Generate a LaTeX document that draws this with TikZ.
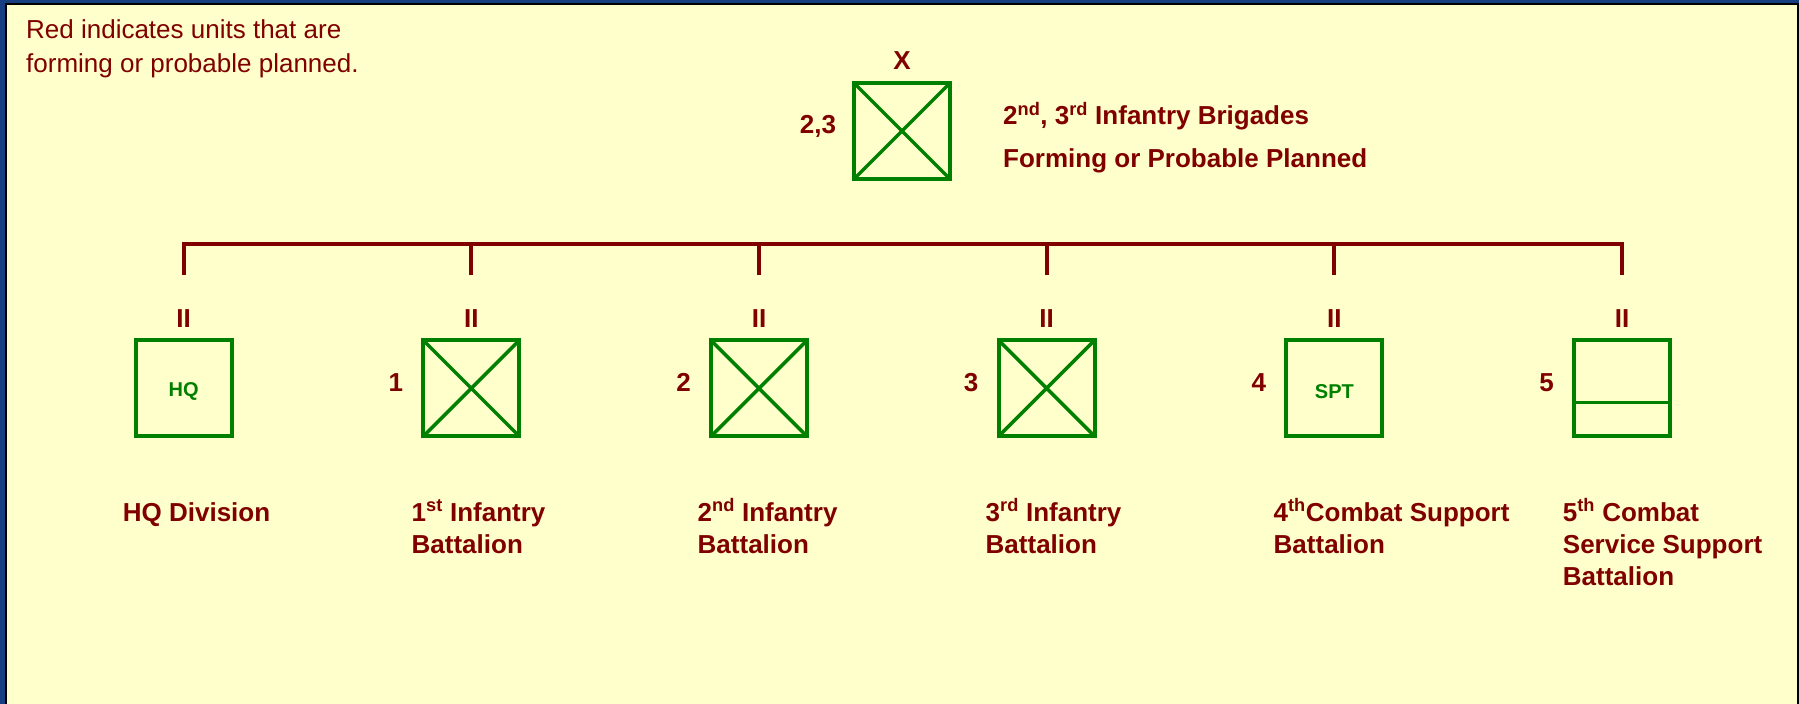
\documentclass[tikz,border=0pt]{standalone}
\usepackage{fontspec}
\setmainfont{Liberation Sans}
\definecolor{dred}{RGB}{128,0,0}
\definecolor{dgreen}{RGB}{0,128,0}
\definecolor{paper}{RGB}{255,255,204}
\definecolor{bluebg}{RGB}{22,62,128}
\tikzset{
  unit/.style={draw=dgreen, line width=4pt, minimum size=96pt, inner sep=0pt, outer sep=0pt,
    font=\fontsize{20}{24}\selectfont\bfseries, text=dgreen},
  tag/.style={text=dred, font=\fontsize{26}{30}\selectfont\bfseries, inner sep=0pt},
  lbl/.style={text=dred, font=\fontsize{26}{32}\selectfont\bfseries, align=left, anchor=base west, inner sep=0pt},
  notetext/.style={text=dred, font=\fontsize{26}{34}\selectfont, align=left, anchor=base west, inner sep=0pt},
  crossline/.style={draw=dgreen, line width=3.5pt},
  link/.style={draw=dred, line width=4pt},
}
\begin{document}
\begin{tikzpicture}[x=1pt,y=-1pt]
\useasboundingbox (0,0) rectangle (1799,704);
\fill[bluebg] (0,0) rectangle (1799,704);
\filldraw[fill=paper, draw=black, line width=2pt] (6,4) rectangle (1798,720);

% note (anchor is the baseline of the last line)
\node[notetext] (note) at (26,72.5) {Red indicates units that are\\forming or probable planned.};

% top brigade
\node[unit] (T) at (902,131) {};
\draw[crossline] (T.north west) -- (T.south east) (T.north east) -- (T.south west);
\node[tag] (Tx) at (902,61) {X};
\node[tag] (Tn) at (818,126) {2,3};
\node[lbl] (brig1) at (1003,124.5) {2\textsuperscript{nd}, 3\textsuperscript{rd} Infantry Brigades};
\node[lbl] (brig2) at (1003,167.5) {Forming or Probable Planned};

% bar
\coordinate (bar) at (0,244);
\foreach \i/\x in {1/183.6,2/471.3,3/759,4/1046.6,5/1334.4,6/1622}{
  \coordinate (d\i) at (\x,275);
  \node[unit] (B\i) at (\x,388.3) {};
  \node[tag] (E\i) at (\x,319) {II};
}
\draw[link] (d1) -- (d1 |- bar) -- (d6 |- bar) -- (d6);
\foreach \i in {2,3,4,5}{ \draw[link] (d\i) -- (d\i |- bar); }

% box contents
\node[text=dgreen, font=\fontsize{20}{24}\selectfont\bfseries, inner sep=0pt] (hq) at ([yshift=-3pt]B1.center) {HQ};
\node[text=dgreen, font=\fontsize{20}{24}\selectfont\bfseries, inner sep=0pt] (spt) at ([yshift=-3pt]B5.center) {SPT};
\foreach \i in {2,3,4}{
  \draw[crossline] (B\i.north west) -- (B\i.south east) (B\i.north east) -- (B\i.south west);
}
\draw[crossline] ([yshift=-14pt]B6.west) -- ([yshift=-14pt]B6.east);

% numbers
\foreach \i/\n in {2/1,3/2,4/3,5/4,6/5}{
  \node[tag] (N\i) at ([xshift=-75.5pt,yshift=6pt]B\i.center) {\n};
}

% labels (anchor is the baseline of the last line)
\node[lbl] (L1) at (122.7,521) {HQ Division};
\node[lbl] (L2) at (411.5,553) {1\textsuperscript{st} Infantry\\Battalion};
\node[lbl] (L3) at (697.5,553) {2\textsuperscript{nd} Infantry\\Battalion};
\node[lbl] (L4) at (985.5,553) {3\textsuperscript{rd} Infantry\\Battalion};
\node[lbl] (L5) at (1273.5,553) {4\textsuperscript{th}Combat Support\\Battalion};
\node[lbl] (L6) at (1562.7,585) {5\textsuperscript{th} Combat\\Service Support\\Battalion};
\end{tikzpicture}
\end{document}
